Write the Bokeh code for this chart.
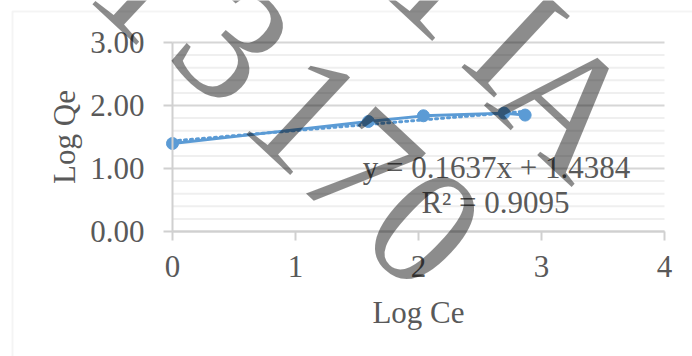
from bokeh.plotting import figure
from bokeh.models import (Label, BoxAnnotation, FixedTicker, NumeralTickFormatter,
                          Range1d, LinearAxis)
from bokeh.embed import file_html
from bokeh.resources import INLINE

# ---- data ----
log_ce = [0.0, 1.593, 2.040, 2.696, 2.867]
log_qe = [1.397, 1.746, 1.837, 1.879, 1.848]
trend_slope = 0.1637
trend_intercept = 1.4384
r_squared = 0.9095
x_ticks = [0, 1, 2, 3, 4]
y_major = [0, 1, 2, 3]
y_minor = [0.2, 0.4, 0.6, 0.8, 1.2, 1.4, 1.6, 1.8, 2.2, 2.4, 2.6, 2.8]
x_title = "Log Ce"
y_title = "Log Qe"
watermark_chars = ["1", "3", "1", "7", "0", "1", "I", "A"]

BLUE = "#5B9BD5"
TXT = "#595959"
FONT = "Liberation Serif"

# layout helpers: pixel position of the plot area (0..4, 0..3) inside the 692x356 canvas
W, H = 692, 356
X0, Y0, SX, SY = 172.0, 231.0, 123.0, 63.0
def dx(px):
    return (px - X0) / SX
def dy(py):
    return (Y0 - py) / SY

p = figure(width=W, height=H, output_backend="svg", toolbar_location=None,
           x_range=Range1d(dx(0), dx(W)), y_range=Range1d(dy(H), dy(0)),
           x_axis_type=None, y_axis_type=None,
           min_border_left=0, min_border_right=0, min_border_top=0, min_border_bottom=0)
p.outline_line_color = None
p.background_fill_color = "white"
p.border_fill_color = "white"
p.xgrid.grid_line_color = None
p.ygrid.grid_line_color = None

# chart-area border
p.add_layout(BoxAnnotation(left=dx(12), right=dx(3000), top=dy(11), bottom=dy(3000),
                           fill_color=None, line_color="#D9D9D9", line_width=2, level="underlay"))

# horizontal gridlines limited to the plot area
p.segment(x0=x_ticks[0], x1=x_ticks[-1], y0=y_minor, y1=y_minor, line_color="#EFEFEF", line_width=2)
p.segment(x0=x_ticks[0], x1=x_ticks[-1], y0=y_major, y1=y_major, line_color="#D6D6D6", line_width=2)

xaxis = LinearAxis(fixed_location=0, bounds=(x_ticks[0], x_ticks[-1]),
                   ticker=FixedTicker(ticks=x_ticks), axis_label=x_title)
yaxis = LinearAxis(fixed_location=0, bounds=(y_major[0], y_major[-1]),
                   ticker=FixedTicker(ticks=y_major), axis_label=y_title,
                   formatter=NumeralTickFormatter(format="0.00"))
for ax in (xaxis, yaxis):
    ax.axis_line_color = "#D0D0D0"
    ax.axis_line_width = 2
    ax.major_tick_line_color = "#D0D0D0"
    ax.major_tick_line_width = 2
    ax.major_tick_out = 9
    ax.major_tick_in = 0
    ax.minor_tick_line_color = None
    ax.major_label_text_font = FONT
    ax.major_label_text_font_size = "31px"
    ax.major_label_text_color = TXT
    ax.axis_label_text_font = FONT
    ax.axis_label_text_font_size = "31px"
    ax.axis_label_text_font_style = "normal"
    ax.axis_label_text_color = TXT
xaxis.major_label_standoff = 15
yaxis.major_label_standoff = 19
xaxis.axis_label_standoff = 15
yaxis.axis_label_standoff = 5
p.add_layout(xaxis, "below")
p.add_layout(yaxis, "left")

# trendline (linear fit)
tx = [min(log_ce), max(log_ce)]
ty = [trend_slope * v + trend_intercept for v in tx]
p.line(tx, ty, line_color=BLUE, line_width=3, line_dash="2 4", line_cap="round")

# series
p.line(log_ce, log_qe, line_color=BLUE, line_width=2.8)
p.scatter(log_ce, log_qe, size=12, fill_color=BLUE, line_color=BLUE)

eq1 = f"y = {trend_slope:.4f}x + {trend_intercept:.4f}"
eq2 = f"R² = {r_squared:.4f}"
p.add_layout(Label(x=dx(496), y=dy(167), text=eq1, text_align="center", text_baseline="alphabetic",
                   text_font=FONT, text_font_size="31px", text_color=TXT))
p.add_layout(Label(x=dx(495), y=dy(202), text=eq2, text_align="center", text_baseline="alphabetic",
                   text_font=FONT, text_font_size="31px", text_color=TXT))

# watermark overlay
wm_pos = [(150, -18), (232, 44), (304, 112), (360, 168), (424, 228),
          (446, -22), (516, 40), (566, 104)]
for ch, (sx, sy) in zip(watermark_chars, wm_pos):
    p.add_layout(Label(x=dx(sx), y=dy(sy), text=ch, angle=-43, angle_units="deg",
                       text_align="center", text_baseline="middle",
                       text_font=FONT, text_font_size="170px",
                       text_color="black", text_alpha=0.45))

open("out.html", "w").write(file_html(p, INLINE))
